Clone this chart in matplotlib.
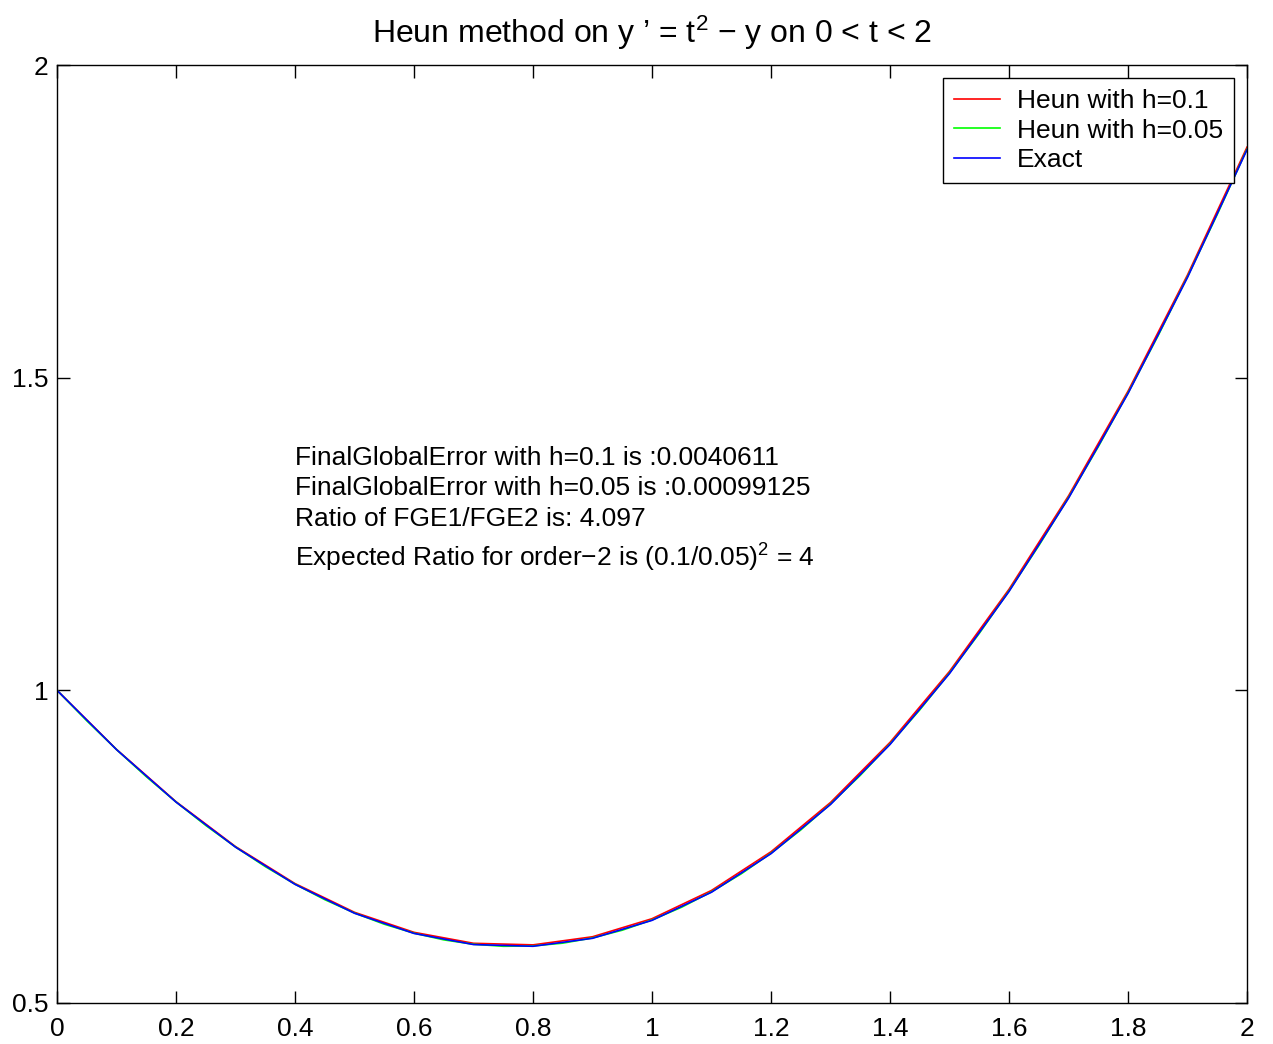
import matplotlib
matplotlib.use("Agg")
import matplotlib.pyplot as plt

plt.rcParams['font.family'] = ['Liberation Sans', 'DejaVu Sans']
plt.rcParams['mathtext.fontset'] = 'custom'
plt.rcParams['mathtext.rm'] = 'Liberation Sans'
plt.rcParams['mathtext.it'] = 'Liberation Sans'

# grid with h=0.1
t_coarse = [0.0, 0.1, 0.2, 0.3, 0.4, 0.5, 0.6, 0.7, 0.8, 0.9, 1.0,
            1.1, 1.2, 1.3, 1.4, 1.5, 1.6, 1.7, 1.8, 1.9, 2.0]
heun_01 = [1.0, 0.905500, 0.821928, 0.750144, 0.690931, 0.644992, 0.612968,
           0.595436, 0.592920, 0.605892, 0.634783, 0.679978, 0.741830,
           0.820656, 0.916744, 1.030353, 1.161720, 1.311056, 1.478556,
           1.664393, 1.868726]
exact = [1.0, 0.905163, 0.821269, 0.749182, 0.689680, 0.643469, 0.611188,
         0.593415, 0.590671, 0.603430, 0.632121, 0.677129, 0.738806,
         0.817468, 0.913403, 1.026870, 1.158103, 1.307316, 1.474701,
         1.660431, 1.864665]

# grid with h=0.05
t_fine = [0.0, 0.05, 0.1, 0.15, 0.2, 0.25, 0.3, 0.35, 0.4, 0.45, 0.5,
          0.55, 0.6, 0.65, 0.7, 0.75, 0.8, 0.85, 0.9, 0.95, 1.0,
          1.05, 1.1, 1.15, 1.2, 1.25, 1.3, 1.35, 1.4, 1.45, 1.5,
          1.55, 1.6, 1.65, 1.7, 1.75, 1.8, 1.85, 1.9, 1.95, 2.0]
heun_005 = [1.0, 0.951313, 0.905245, 0.861915, 0.821431, 0.783899, 0.749418,
            0.718084, 0.689987, 0.665212, 0.643843, 0.625955, 0.611624,
            0.600920, 0.593910, 0.590657, 0.591222, 0.595662, 0.604033,
            0.616386, 0.632772, 0.653237, 0.677826, 0.706582, 0.739545,
            0.776755, 0.818248, 0.864058, 0.914220, 0.968764, 1.027721,
            1.091120, 1.158987, 1.231349, 1.308230, 1.389654, 1.475643,
            1.566218, 1.661399, 1.761206, 1.865656]

labels = ['Heun with h=0.1', 'Heun with h=0.05', 'Exact']
notes = ['FinalGlobalError with h=0.1 is :0.0040611',
         'FinalGlobalError with h=0.05 is :0.00099125',
         'Ratio of FGE1/FGE2 is: 4.097',
         'Expected Ratio for order\u22122 is (0.1/0.05)$^2$ = 4']
note_y = [1.372, 1.323, 1.274, 1.212]

fig = plt.figure(figsize=(12.73, 10.44), dpi=100)
ax = fig.add_axes([0.0448, 0.0393, 0.9348, 0.8984])

ax.plot(t_coarse, heun_01, color='red', lw=1.2, label=labels[0])
ax.plot(t_fine, heun_005, color='#00ff00', lw=1.2, label=labels[1])
ax.plot(t_coarse, exact, color='blue', lw=1.2, label=labels[2])

ax.set_xlim(0, 2)
ax.set_ylim(0.5, 2)
ax.set_xticks([0, 0.2, 0.4, 0.6, 0.8, 1.0, 1.2, 1.4, 1.6, 1.8, 2.0])
ax.set_xticklabels(['0', '0.2', '0.4', '0.6', '0.8', '1', '1.2', '1.4', '1.6', '1.8', '2'])
ax.set_yticks([0.5, 1.0, 1.5, 2.0])
ax.set_yticklabels(['0.5', '1', '1.5', '2'])
ax.tick_params(direction='in', length=9, width=1, top=True, right=True,
               labelsize=19)
ax.tick_params(axis='x', pad=10)
ax.tick_params(axis='y', pad=6)
for s in ax.spines.values():
    s.set_linewidth(1.0)

ax.set_title('Heun method on y \u2019 = t$^2$ \u2212 y on 0 < t < 2', fontsize=23, pad=16)

for txt, yy in zip(notes, note_y):
    ax.text(0.4, yy, txt, fontsize=19, va='center', ha='left')

leg = ax.legend(loc='upper right', bbox_to_anchor=(1.0, 1.0), fontsize=19,
                frameon=True, fancybox=False, edgecolor='black', framealpha=1,
                handlelength=1.75, handletextpad=0.65, borderpad=0.4,
                labelspacing=0.22, borderaxespad=0.5)
leg.get_frame().set_linewidth(1.0)

fig.savefig('out.png', dpi=100)
